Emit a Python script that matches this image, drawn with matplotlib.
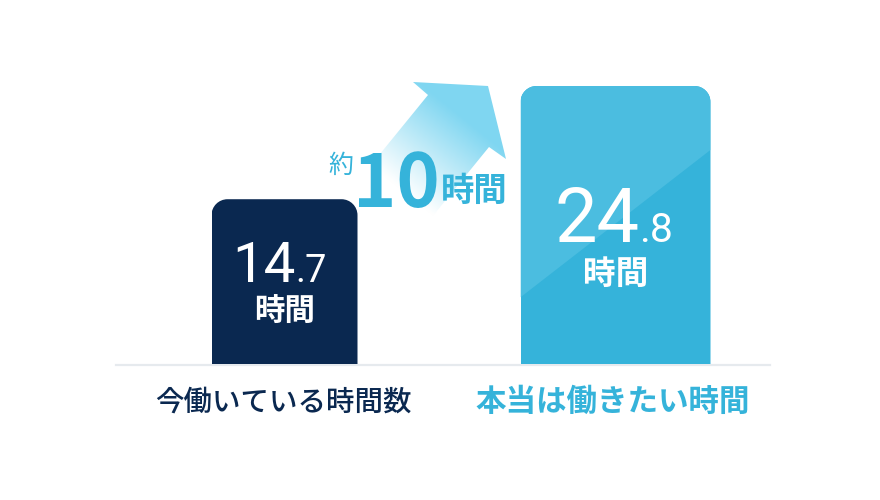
import numpy as np
import matplotlib
matplotlib.use("Agg")
import matplotlib.pyplot as plt
from matplotlib.path import Path
from matplotlib.patches import PathPatch, Polygon
from matplotlib.colors import to_rgb

plt.rcParams['font.family'] = ['Noto Sans CJK JP', 'DejaVu Sans']

# ---- data ----
categories = ["今働いている時間数", "本当は働きたい時間"]
hours = [14.7, 24.8]
unit = "時間"
diff_prefix = "約"
diff_value = "10"

# ---- style ----
navy = "#0a2850"
blue = "#35b3da"
blue_light = "#4bbde0"
arrow_col = "#7fd6f1"
bar_colors = [navy, blue]
label_colors = [navy, blue]
label_weights = ["medium", "bold"]
label_sizes = [20.5, 22]
positions = [284.5, 615.5]
widths = [146, 190]
num_family = ['Roboto', 'DejaVu Sans']

W, H = 880, 500
fig = plt.figure(figsize=(8.8, 5.0), dpi=100)
ax = fig.add_axes([0, 0, 1, 1])
ax.set_xlim(0, W)
px_per_unit = 278 / 24.8
base_from_bottom = 136
ax.set_ylim(-base_from_bottom / px_per_unit, (H - base_from_bottom) / px_per_unit)
ax.axis("off")

# baseline
ax.axhline(-1.0 / px_per_unit, xmin=116 / W, xmax=770 / W, color="#e6eaee", lw=1.6, zorder=1)

bars = ax.bar(positions, hours, width=widths, color=bar_colors, zorder=2)

def rounded_top(x0, x1, y0, y1, rx, ry):
    k = 0.5523
    verts = [(x0, y0), (x1, y0), (x1, y1 - ry),
             (x1, y1 - ry * (1 - k)), (x1 - rx * (1 - k), y1), (x1 - rx, y1),
             (x0 + rx, y1),
             (x0 + rx * (1 - k), y1), (x0, y1 - ry * (1 - k)), (x0, y1 - ry),
             (x0, y0)]
    codes = [Path.MOVETO, Path.LINETO, Path.LINETO,
             Path.CURVE4, Path.CURVE4, Path.CURVE4,
             Path.LINETO,
             Path.CURVE4, Path.CURVE4, Path.CURVE4,
             Path.CLOSEPOLY]
    return Path(verts, codes)

r_px = 16
for i, rect in enumerate(bars):
    x0 = rect.get_x(); x1 = x0 + rect.get_width()
    y0 = rect.get_y(); y1 = y0 + rect.get_height()
    clip = PathPatch(rounded_top(x0, x1, y0, y1, r_px, r_px / px_per_unit),
                     transform=ax.transData, facecolor="none", edgecolor="none")
    rect.set_clip_path(clip)
    if i == 1:
        h = rect.get_height()
        poly = ax.fill([x0, x1, x1, x0], [y0 + 0.24 * h, y0 + 0.77 * h, y1, y1],
                       color=blue_light, zorder=3, lw=0)[0]
        poly.set_clip_path(clip)

# ---- overlay in pixel coordinates for decoration & text ----
ov = fig.add_axes([0, 0, 1, 1])
ov.set_xlim(0, W)
ov.set_ylim(H, 0)
ov.axis("off")
ov.patch.set_visible(False)

# gradient arrow
pts = np.array([(371, 165), (428, 95), (413, 82), (488, 86),
                (506, 159), (489, 147), (432, 217)], dtype=float)
tip = np.array([488.0, 86.0])
d = np.array([-0.63, 0.78]); d = d / np.linalg.norm(d)
gx0, gx1, gy0, gy1 = 350, 515, 75, 230
xs = np.linspace(gx0, gx1, 330)
ys = np.linspace(gy0, gy1, 310)
XX, YY = np.meshgrid(xs, ys)
p = (XX - tip[0]) * d[0] + (YY - tip[1]) * d[1]
t = np.clip((p - 40) / (135 - 40), 0, 1)
c = np.array(to_rgb(arrow_col))
img = np.zeros(XX.shape + (4,))
for j in range(3):
    img[..., j] = c[j] * (1 - t) + 1.0 * t
img[..., 3] = 1.0
im = ov.imshow(img, extent=(gx0, gx1, gy1, gy0), origin="upper", aspect="auto",
               interpolation="bilinear", zorder=1)
arrow_poly = Polygon(pts, closed=True, transform=ov.transData)
im.set_clip_path(arrow_poly)
ov.set_xlim(0, W)
ov.set_ylim(H, 0)

# value labels inside bars
num_specs = [
    dict(split_x=296, base=282, big=40.5, small=27.3, unit_y=312, unit_size=22),
    dict(split_x=640, base=242, big=54.5, small=29.4, unit_y=274, unit_size=23.5),
]
for i, v in enumerate(hours):
    s = f"{v:.1f}"
    ip, dp = s.split(".")
    spec = num_specs[i]
    ov.text(spec["split_x"], spec["base"], ip, ha="right", va="baseline",
            fontsize=spec["big"], color="white", zorder=5,
            family=num_family, fontweight="normal")
    ov.text(spec["split_x"] - 1, spec["base"], "." + dp, ha="left", va="baseline",
            fontsize=spec["small"], color="white", zorder=5,
            family=num_family, fontweight="normal")
    ov.text(positions[i], spec["unit_y"], unit, ha="center", va="center",
            fontsize=spec["unit_size"], fontweight="bold", color="white", zorder=5)

# difference callout: laid out left to right
renderer = fig.canvas.get_renderer()
t1 = ov.text(328, 166, diff_prefix, ha="left", va="center", fontsize=18,
             color=blue, zorder=5)
x_next = t1.get_window_extent(renderer).x1
t2 = ov.text(x_next, 207, diff_value, ha="left", va="baseline", fontsize=53,
             fontweight="bold", color=blue, zorder=5)
x_next = t2.get_window_extent(renderer).x1
ov.text(x_next + 1, 191, unit, ha="left", va="center", fontsize=24,
        fontweight="bold", color=blue, zorder=5)

# category labels
label_x = [283.5, 613]
for i, cat in enumerate(categories):
    ov.text(label_x[i], 402, cat, ha="center", va="center",
            fontsize=label_sizes[i], fontweight=label_weights[i],
            color=label_colors[i], zorder=5)

fig.savefig("out.png", dpi=100, facecolor="white")
